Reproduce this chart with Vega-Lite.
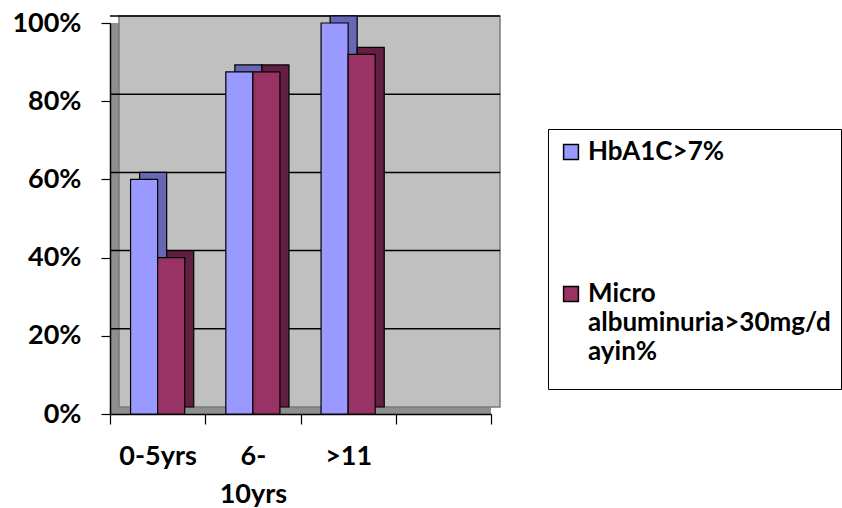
{
  "$schema": "https://vega.github.io/schema/vega-lite/v6.json",
  "autosize": "none",
  "width": 381,
  "height": 391,
  "padding": {"left": 110, "top": 23, "right": 351, "bottom": 94},
  "background": "white",
  "view": {"fill": "#8f8f8f", "stroke": null},
  "config": {
    "font": "Lato",
    "axis": {"labelFont": "Lato", "labelFontWeight": "bold", "labelColor": "black", "labelFontSize": 27},
    "legend": {"labelFont": "Lato", "labelFontWeight": "bold", "labelColor": "black", "labelFontSize": 26},
    "style": {"guide-label": {"lineHeight": 29}}
  },
  "datasets": {
    "rates": [
      {"age": "0-5yrs", "series": "HbA1C>7%", "value": 0.60},
      {"age": "0-5yrs", "series": "Micro albuminuria>30mg/dayin%", "value": 0.40},
      {"age": "6-10yrs", "series": "HbA1C>7%", "value": 0.875},
      {"age": "6-10yrs", "series": "Micro albuminuria>30mg/dayin%", "value": 0.875},
      {"age": ">11", "series": "HbA1C>7%", "value": 1.00},
      {"age": ">11", "series": "Micro albuminuria>30mg/dayin%", "value": 0.92}
    ],
    "gridlines": [{"v": 0.2}, {"v": 0.4}, {"v": 0.6}, {"v": 0.8}, {"v": 1.0}],
    "wall": [{"bottom": 0, "top": 1}]
  },
  "data": {"name": "rates"},
  "resolve": {"scale": {"xOffset": "independent"}},
  "layer": [
    {
      "data": {"name": "wall"},
      "mark": {"type": "rect", "fill": "#c0c0c0", "stroke": "#7a7a7a", "strokeWidth": 1.5,
               "xOffset": 9, "x2Offset": 9, "yOffset": -7, "y2Offset": -7},
      "encoding": {
        "x": {"value": 0},
        "x2": {"value": "width"},
        "y": {"field": "bottom", "type": "quantitative"},
        "y2": {"field": "top"}
      }
    },
    {
      "data": {"name": "gridlines"},
      "mark": {"type": "rule", "color": "black", "strokeWidth": 1.5,
               "xOffset": 9, "x2Offset": 9, "yOffset": -7},
      "encoding": {
        "y": {"field": "v", "type": "quantitative"}
      }
    },
    {
      "mark": {"type": "bar", "stroke": "black", "strokeWidth": 1.2, "yOffset": -7, "y2Offset": -7},
      "encoding": {
        "x": {"field": "age", "type": "nominal"},
        "xOffset": {
          "field": "series", "type": "nominal",
          "scale": {"paddingInner": 0, "paddingOuter": 0.76, "align": 0.72}
        },
        "y": {"field": "value", "type": "quantitative"},
        "fill": {
          "condition": {"test": "datum.series === 'HbA1C>7%'", "value": "#6767b5"},
          "value": "#621f42"
        }
      }
    },
    {
      "mark": {"type": "bar", "stroke": "black", "strokeWidth": 1.2},
      "encoding": {
        "x": {
          "field": "age", "type": "nominal", "title": null,
          "scale": {"domain": ["0-5yrs", "6-10yrs", ">11", " "], "paddingInner": 0, "paddingOuter": 0},
          "axis": {
            "labelAngle": 0, "labelAlign": "center", "tickBand": "extent", "domainColor": "black", "domainWidth": 1.5,
            "tickColor": "black", "tickWidth": 1.2, "tickSize": 10, "labelPadding": 19,
            "labelBaseline": "top", "labelLineHeight": 38,
            "labelExpr": "datum.label === '6-10yrs' ? ['6-', '10yrs'] : datum.label"
          }
        },
        "xOffset": {
          "field": "series", "type": "nominal",
          "scale": {"paddingInner": 0, "paddingOuter": 0.76}
        },
        "y": {
          "field": "value", "type": "quantitative", "title": null,
          "scale": {"domain": [0, 1], "nice": false},
          "axis": {
            "format": "%", "values": [0, 0.2, 0.4, 0.6, 0.8, 1], "grid": false,
            "domainColor": "black", "domainWidth": 1.5, "tickColor": "black", "tickWidth": 1.2,
            "tickSize": 9, "labelPadding": 20
          }
        },
        "color": {
          "field": "series", "type": "nominal",
          "scale": {"range": ["#9999ff", "#993366"]},
          "legend": {
            "title": " ", "titleOrient": "bottom", "titleFontSize": 8, "titlePadding": 6,
            "orient": "none", "legendX": 438, "legendY": 106,
            "fillColor": "white", "strokeColor": "black", "padding": 10,
            "symbolType": "square", "symbolSize": 220, "symbolStrokeColor": "black",
            "symbolStrokeWidth": 1.5, "symbolOpacity": 1, "labelOffset": 4, "labelLimit": 400,
            "rowPadding": 116,
            "labelExpr": "datum.label === 'HbA1C>7%' ? datum.label : ['Micro', 'albuminuria>30mg/d', 'ayin%']"
          }
        }
      }
    }
  ]
}
